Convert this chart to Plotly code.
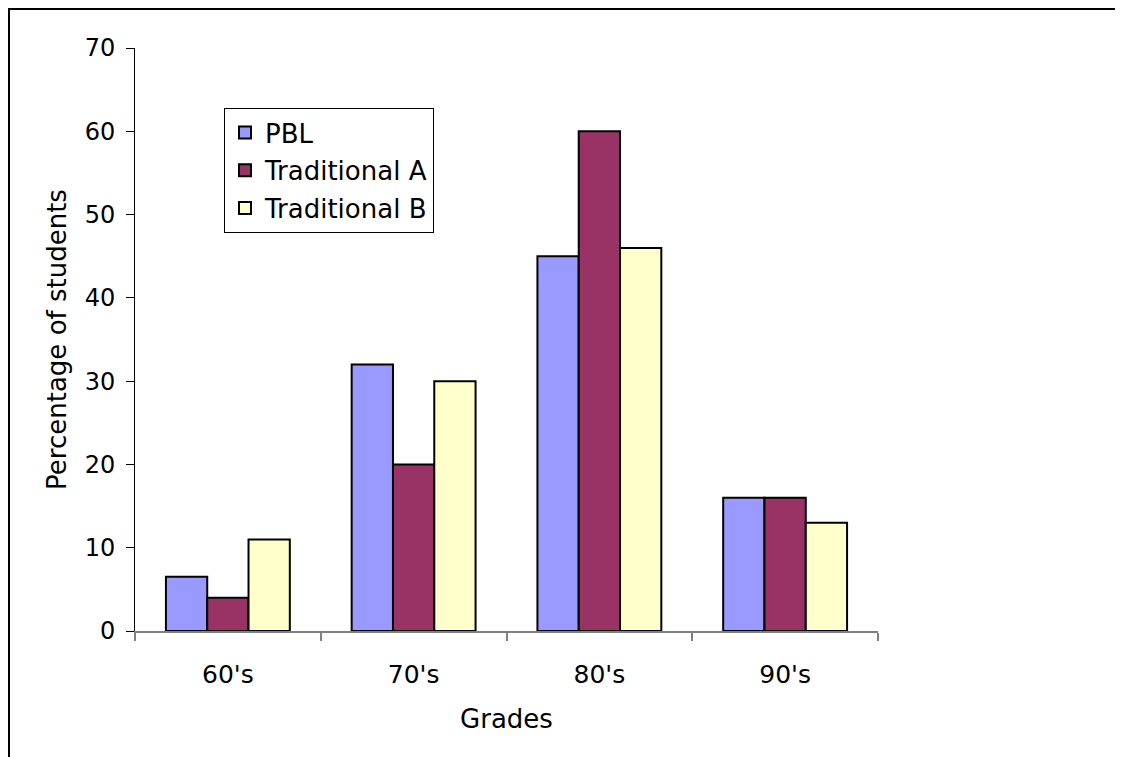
import plotly.graph_objects as go

categories = ["60's", "70's", "80's", "90's"]
series_names = ["PBL", "Traditional A", "Traditional B"]
pbl = [6.5, 32, 45, 16]
trad_a = [4, 20, 60, 16]
trad_b = [11, 30, 46, 13]
colors = ["#9999FF", "#993366", "#FFFFCC"]
y_ticks = [0, 10, 20, 30, 40, 50, 60, 70]

# the page body adds an 8px offset; layout coordinates below are figure coords
W, H = 1123, 757
L, T = 127, 40
pw, ph = 743, 583
R = W - L - pw
B = H - T - ph

fig = go.Figure()
for i, (name, vals) in enumerate(zip(series_names, [pbl, trad_a, trad_b])):
    fig.add_trace(go.Bar(
        x=categories, y=vals, name=name, legendgroup=name,
        marker=dict(color=colors[i], line=dict(color="black", width=2)),
    ))

font = "DejaVu Sans, Verdana, sans-serif"
fig.update_layout(
    width=W, height=H,
    margin=dict(l=L, r=R, t=T, b=B),
    paper_bgcolor="white", plot_bgcolor="white",
    barmode="group", bargap=0.333, bargroupgap=0,
    font=dict(family=font, size=25, color="black"),
    showlegend=True,
    legend=dict(
        x=(216 - L) / pw, y=(ph - (100 - T)) / ph, xanchor="left", yanchor="top",
        bordercolor="black", borderwidth=1, bgcolor="white",
        font=dict(family=font, size=26, color="black"),
        tracegroupgap=1, itemwidth=30,
    ),
    xaxis=dict(
        title=dict(text="Grades", font=dict(size=26), standoff=22),
        showline=True, linecolor="#808080", linewidth=1.5,
        ticks="outside", ticklen=8, tickcolor="#808080", tickwidth=1.5,
        tickson="boundaries", showgrid=False, ticklabelstandoff=20,
        tickfont=dict(size=25),
    ),
    yaxis=dict(
        title=dict(text="Percentage of students", font=dict(size=26), standoff=10),
        range=[0, 70], tickvals=y_ticks, showline=True, linecolor="black",
        linewidth=1, ticks="outside", ticklen=8, tickcolor="black",
        showgrid=False, zeroline=False, ticklabelstandoff=6,
        tickfont=dict(size=24),
    ),
    shapes=[dict(
        type="rect", xref="paper", yref="paper",
        x0=(1 - L) / pw, x1=(1140 - L) / pw,
        y0=(ph - (790 - T)) / ph, y1=(ph - (1 - T)) / ph,
        line=dict(color="black", width=2), fillcolor="rgba(0,0,0,0)",
        layer="below",
    )],
)

fig.write_html("out.html")
